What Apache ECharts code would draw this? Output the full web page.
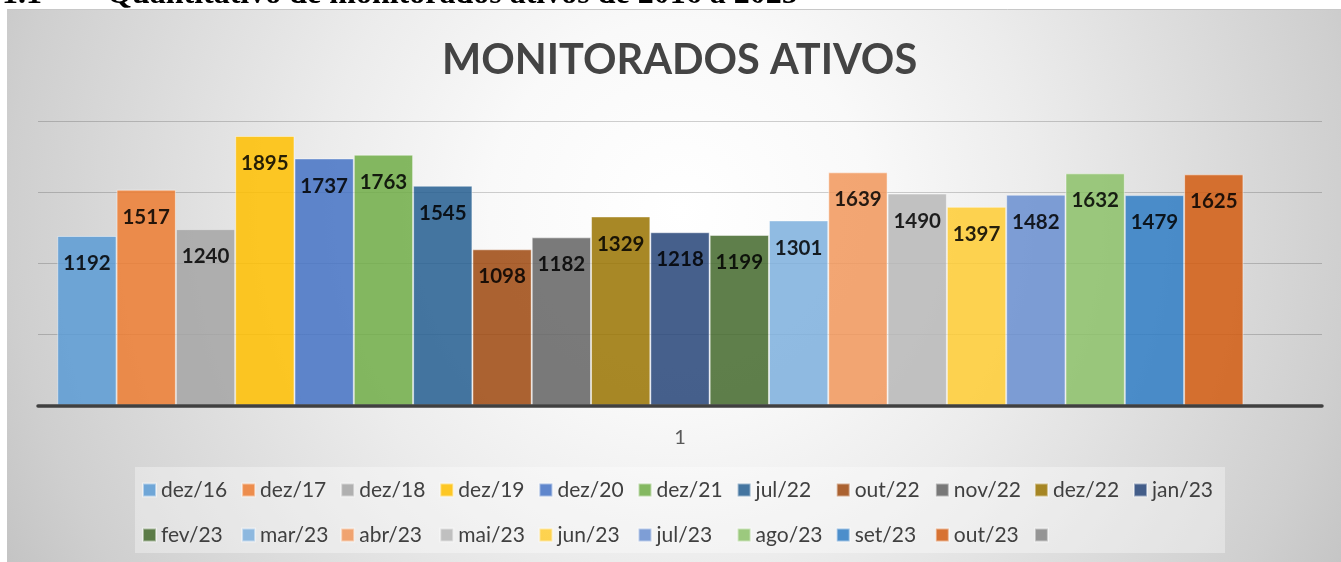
<!DOCTYPE html>
<html>
<head>
<meta charset="utf-8">
<script src="https://cdn.jsdelivr.net/npm/echarts@6/dist/echarts.min.js"></script>
<style>
html,body{margin:0;padding:0;background:#ffffff;}
#chart{width:1341px;height:562px;}
</style>
</head>
<body>
<div id="chart"></div>
<script>
// ---- data ----
var categories = ['1'];
var seriesNames = ['dez/16','dez/17','dez/18','dez/19','dez/20','dez/21','jul/22','out/22','nov/22','dez/22','jan/23',
                   'fev/23','mar/23','abr/23','mai/23','jun/23','jul/23','ago/23','set/23','out/23',' '];
var values = [1192,1517,1240,1895,1737,1763,1545,1098,1182,1329,1218,1199,1301,1639,1490,1397,1482,1632,1479,1625];
var colors = ['#5B9BD5','#ED7D31','#A5A5A5','#FFC000','#4472C4','#70AD47',
              '#255E91','#9E480E','#636363','#997300','#264478','#43682B',
              '#7CAFDD','#F1975A','#B7B7B7','#FFCD33','#698ED0','#8CC168',
              '#2F7DC4','#D25C11','#868686'];
var legendRow1 = seriesNames.slice(0, 11);
var legendRow2 = seriesNames.slice(11);
var yTicks = {min: 0, max: 2000, interval: 500};

var chart = echarts.init(document.getElementById('chart'));

var series = seriesNames.map(function (name, i) {
  return {
    name: name,
    type: 'bar',
    data: [i < values.length ? values[i] : null],
    barGap: '0%',
    barCategoryGap: '3%',
    itemStyle: {
      color: colors[i],
      opacity: 0.85,
      borderColor: 'rgba(255,255,255,0.55)',
      borderWidth: 1
    },
    label: {
      show: true,
      position: 'insideTop',
      distance: 17,
      fontFamily: 'Lato',
      fontWeight: 'bold',
      fontSize: 20.5,
      color: '#000000'
    },
    emphasis: {disabled: true}
  };
});

var legendCommon = {
  orient: 'horizontal',
  left: 142,
  padding: 0,
  itemGap: 0,
  itemWidth: 13,
  itemHeight: 13,
  icon: 'rect',
  selectedMode: false,
  textStyle: {
    fontFamily: 'Lato',
    fontSize: 21,
    color: '#404040',
    width: 80.1,
    lineHeight: 24,
    padding: [0, 0, 0, 0]
  }
};

var option = {
  animation: false,
  graphic: [
    {
      type: 'rect', z: -10, silent: true,
      shape: {x: 7, y: 9, width: 1334, height: 553},
      style: {
        fill: new echarts.graphic.RadialGradient(680, 210, 760, [
          {offset: 0, color: '#ffffff'},
          {offset: 0.25, color: '#f9f9f9'},
          {offset: 0.47, color: '#ececec'},
          {offset: 0.88, color: '#cfcfcf'},
          {offset: 1, color: '#c4c4c4'}
        ], true)
      }
    },
    {
      type: 'line', z: -9, silent: true,
      shape: {x1: 7, y1: 9.5, x2: 1341, y2: 9.5},
      style: {stroke: '#c8c8c8', lineWidth: 1}
    },
    {
      type: 'rect', z: -8, silent: true,
      shape: {x: 135, y: 467, width: 1090, height: 86},
      style: {fill: 'rgba(255,255,255,0.35)'}
    },
    {
      type: 'text', z: 10, silent: true,
      x: 2, y: -5,
      style: {text: '1.1', fontFamily: 'Liberation Serif', fontWeight: 'bold', fontSize: 32, fill: '#000', verticalAlign: 'middle'}
    },
    {
      type: 'text', z: 10, silent: true,
      x: 107, y: -5,
      style: {text: 'Quantitativo de monitorados ativos de 2016 a 2025', fontFamily: 'Liberation Serif', fontWeight: 'bold', fontSize: 32, fill: '#000', verticalAlign: 'middle'}
    }
  ],
  title: {
    text: 'MONITORADOS ATIVOS',
    left: 437,
    top: 35,
    textStyle: {fontFamily: 'Lato', fontWeight: 'bold', fontSize: 41.5, color: '#444444'}
  },
  legend: [
    Object.assign({}, legendCommon, {top: 478, data: legendRow1}),
    Object.assign({}, legendCommon, {top: 523, data: legendRow2})
  ],
  grid: {left: 38, right: 19, top: 121, bottom: 156.5, containLabel: false},
  xAxis: {
    type: 'category',
    data: categories,
    axisTick: {show: false},
    axisLine: {show: true, lineStyle: {color: '#404040', width: 3.5}},
    axisLabel: {fontFamily: 'Lato', fontSize: 20, color: '#595959', margin: 22},
    z: 5
  },
  yAxis: {
    type: 'value',
    min: yTicks.min,
    max: yTicks.max,
    interval: yTicks.interval,
    axisLabel: {show: false},
    axisLine: {show: false},
    axisTick: {show: false},
    splitLine: {show: true, lineStyle: {color: 'rgba(0,0,0,0.18)', width: 1}}
  },
  series: series
};

chart.setOption(option);
</script>
</body>
</html>
